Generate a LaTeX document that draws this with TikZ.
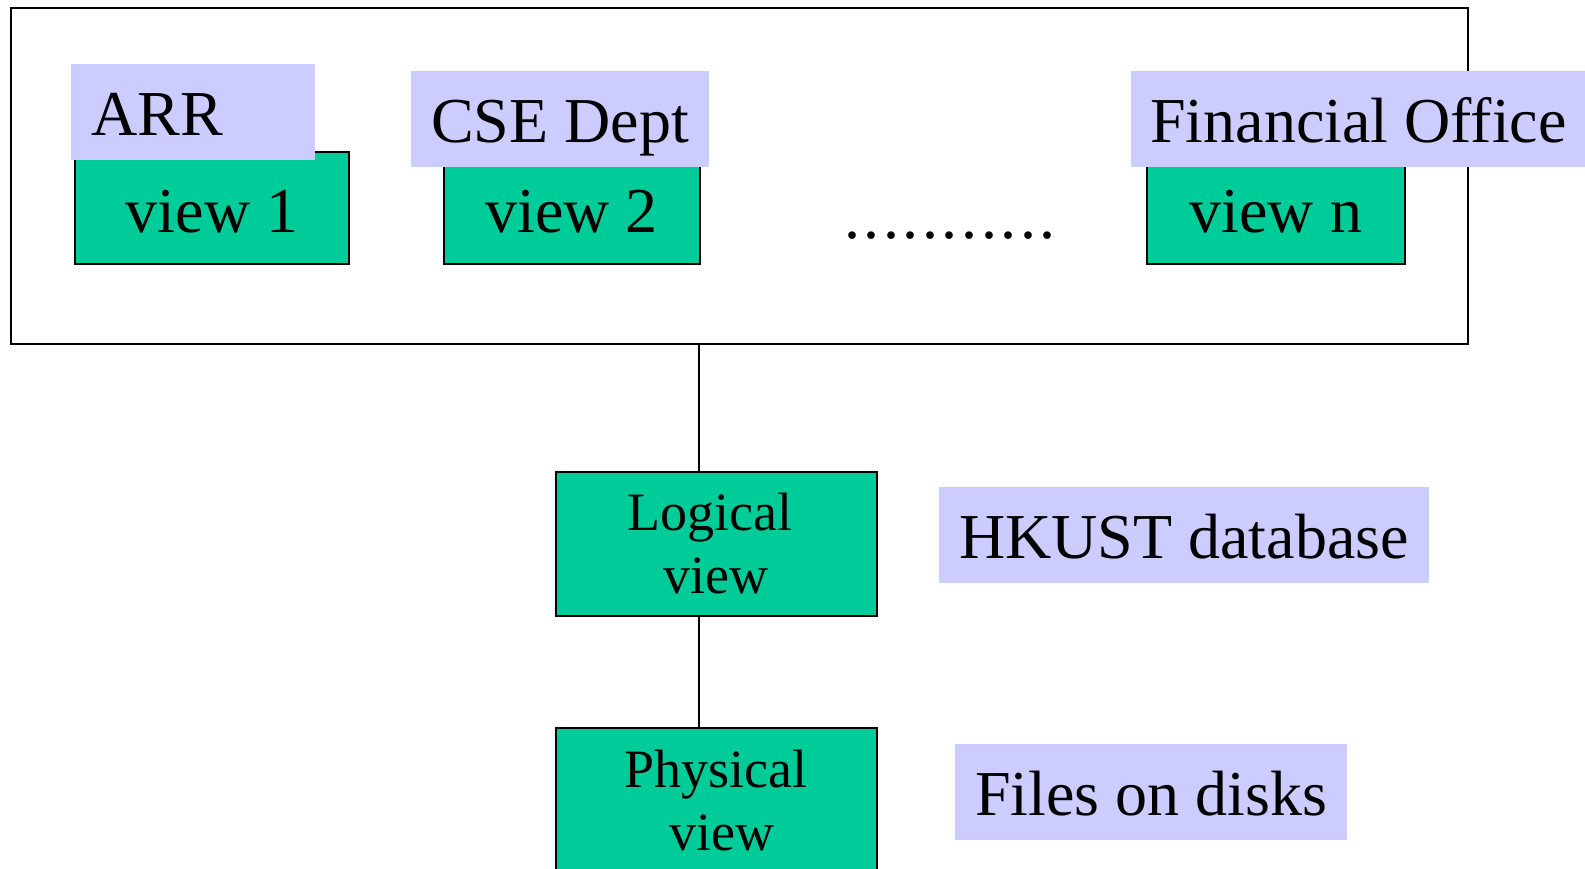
\documentclass[tikz,border=0pt]{standalone}
\usepackage{fontspec}
\setmainfont{Liberation Serif}
\definecolor{viewgreen}{RGB}{0,204,153}
\definecolor{tagblue}{RGB}{204,204,255}
\tikzset{
  frame/.style={draw, line width=1.7pt, inner sep=0pt, anchor=north west},
  viewbox/.style={draw, line width=2pt, fill=viewgreen, inner sep=0pt,
    anchor=north west, font=\fontsize{64}{70}\selectfont,
    text height=80.3pt, text depth=32.3pt, minimum height=112.6pt},
  levelbox/.style={draw, line width=2pt, fill=viewgreen, inner sep=0pt,
    anchor=north west, align=center, font=\fontsize{54}{63}\selectfont,
    minimum width=321pt, minimum height=144.5pt},
  tag/.style={fill=tagblue, inner xsep=20pt, inner ysep=0pt, anchor=north west,
    text height=71pt, text depth=25pt, font=\fontsize{64}{70}\selectfont},
  link/.style={line width=1.4pt}
}
\begin{document}
\begin{tikzpicture}[x=1pt,y=-1pt]
\useasboundingbox (0,0) rectangle (1585,868);

% external level frame
\node[frame, minimum width=1457pt, minimum height=336pt] (ext) at (10,7) {};

% user views
\node[viewbox, minimum width=273.2pt] (v1) at (74.4,150.7) {view 1};
\node[viewbox, minimum width=256.2pt] (v2) at (442.6,150.7) {view 2};
\node[viewbox, minimum width=257.1pt] (vn) at (1146.4,150.7) {view n};
\node[anchor=base, font=\fontsize{64}{70}\selectfont] (dots) at (950,238)
  {.\kern3.6pt.\kern3.6pt.\kern3.6pt.\kern3.6pt.\kern3.6pt.\kern3.6pt.\kern3.6pt.\kern3.6pt.\kern3.6pt.\kern3.6pt.};

% owners of the views
\node[tag, text width=203pt, align=left, inner xsep=20.5pt] (arr) at (71,64) {ARR};
\node[tag] (cse) at (411,71) {CSE Dept};
\node[tag, inner xsep=19pt] (fin) at (1131,71) {Financial Office};

% conceptual and internal levels
\node[levelbox] (logical) at (554.5,470.7) {Logical\hspace*{13pt}\\view};
\node[levelbox] (physical) at (554.5,727) {Physical\\\hspace*{12pt}view};

\node[tag] (db) at (939,487) {HKUST database};
\node[tag] (files) at (955,744) {Files on disks};

% connectors between the levels
\coordinate (tap) at ([xshift=144.5pt]logical.north west);
\draw[link] (tap |- ext.south) -- (tap);
\draw[link] ([xshift=144.5pt]logical.south west) -- ([xshift=144.5pt]physical.north west);
\end{tikzpicture}
\end{document}
